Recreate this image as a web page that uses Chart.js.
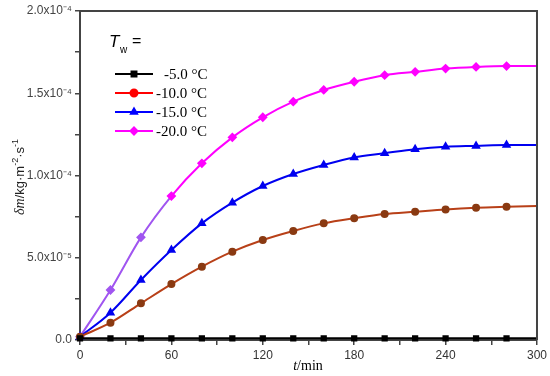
<!DOCTYPE html>
<html>
<head>
<meta charset="utf-8">
<script src="https://cdn.jsdelivr.net/npm/chart.js@4.4.1/dist/chart.umd.min.js"></script>
<style>
  html, body { margin: 0; padding: 0; background: #fff; }
  #wrap { width: 550px; height: 376px; position: relative; }
</style>
</head>
<body>
<div id="wrap"><canvas id="grafico"></canvas></div>
<script>
// datos (t en min, dm en kg/m2/s)
const tiempos = [0, 20, 40, 60, 80, 100, 120, 140, 160, 180, 200, 220, 240, 260, 280, 300];
const serieLabels = ['-5.0 °C', '-10.0 °C', '-15.0 °C', '-20.0 °C'];
const tw5 = [0.1e-5, 0.1e-5, 0.1e-5, 0.1e-5, 0.1e-5, 0.1e-5, 0.1e-5, 0.1e-5, 0.1e-5, 0.1e-5, 0.1e-5, 0.1e-5, 0.1e-5, 0.1e-5, 0.1e-5, 0.1e-5];
const tw10 = [0.2e-5, 1.05e-5, 2.23e-5, 3.40e-5, 4.46e-5, 5.37e-5, 6.08e-5, 6.63e-5, 7.09e-5, 7.40e-5, 7.66e-5, 7.80e-5, 7.94e-5, 8.04e-5, 8.10e-5, 8.15e-5];
const tw15 = [0.2e-5, 1.66e-5, 3.65e-5, 5.47e-5, 7.09e-5, 8.35e-5, 9.36e-5, 10.09e-5, 10.64e-5, 11.10e-5, 11.35e-5, 11.60e-5, 11.75e-5, 11.80e-5, 11.85e-5, 11.85e-5];
const tw20 = [0.2e-5, 3.04e-5, 6.24e-5, 8.75e-5, 10.74e-5, 12.32e-5, 13.54e-5, 14.49e-5, 15.20e-5, 15.70e-5, 16.10e-5, 16.30e-5, 16.50e-5, 16.60e-5, 16.65e-5, 16.65e-5];
const yTicksLabels = { 0: '0.0', 2: '5.0x10⁻⁵', 4: '1.0x10⁻⁴', 6: '1.5x10⁻⁴', 8: '2.0x10⁻⁴' };

// sin marcador en el ultimo punto (t = 300)
function radios(r) {
    return tiempos.map((t, i) => i === tiempos.length - 1 ? 0 : r);
}

function puntos(vals) {
    return tiempos.map((t, i) => ({ x: t, y: vals[i] }));
}

// marco, leyenda y titulos
const extras = {
    id: 'extras',
    afterDraw(chart) {
        const c = chart.ctx;
        const a = chart.chartArea;
        c.save();
        c.strokeStyle = '#444';
        c.lineWidth = 2;
        c.beginPath();
        c.moveTo(a.left, a.top);
        c.lineTo(a.right, a.top);
        c.lineTo(a.right, a.bottom);
        c.stroke();

        // leyenda
        c.fillStyle = '#000';
        c.textBaseline = 'middle';
        c.font = 'italic 17px "Liberation Sans", Arial';
        c.fillText('T', 109, 42);
        c.font = '10px "Liberation Sans", Arial';
        c.fillText('w', 120, 50);
        c.font = '16px "Liberation Sans", Arial';
        c.fillText('=', 132, 42);

        const cols = ['#000000', '#ff0000', '#0000ff', '#ff00ff'];
        const formas = ['rect', 'circle', 'triangle', 'rectRot'];
        c.font = '15px "Liberation Serif", "Times New Roman", serif';
        for (let i = 0; i < 4; i++) {
            const y = 74 + i * 19;
            c.strokeStyle = cols[i];
            c.lineWidth = 2;
            c.beginPath();
            c.moveTo(115, y);
            c.lineTo(153, y);
            c.stroke();
            c.fillStyle = cols[i];
            Chart.helpers.drawPoint(c, { pointStyle: formas[i], radius: 3.5, borderWidth: 1 }, 134, y);
            c.fillStyle = '#000';
            c.fillText(serieLabels[i], i === 0 ? 164 : 156, y + 1);
        }

        // titulo eje x
        c.textBaseline = 'alphabetic';
        c.font = 'italic 14px "Liberation Serif", serif';
        const wt = c.measureText('t').width;
        c.font = '14px "Liberation Serif", serif';
        const wm = c.measureText('/min').width;
        let x0 = 308 - (wt + wm) / 2;
        c.font = 'italic 14px "Liberation Serif", serif';
        c.fillText('t', x0, 370);
        c.font = '14px "Liberation Serif", serif';
        c.fillText('/min', x0 + wt, 370);

        // titulo eje y (rotado)
        c.translate(19, 177);
        c.rotate(-Math.PI / 2);
        const partes = [
            ['italic 14px "Liberation Serif", serif', 'δm', 0],
            ['13px "Liberation Sans", Arial', '/kg·m', 0],
            ['9px "Liberation Sans", Arial', '-2', -6],
            ['13px "Liberation Sans", Arial', '·s', 0],
            ['9px "Liberation Sans", Arial', '-1', -6]
        ];
        let total = 0;
        partes.forEach(p => { c.font = p[0]; total += c.measureText(p[1]).width; });
        let px = -total / 2;
        c.fillStyle = '#222';
        partes.forEach(p => {
            c.font = p[0];
            c.fillText(p[1], px, 5 + p[2]);
            px += c.measureText(p[1]).width;
        });
        c.restore();
    }
};

const ctx = document.getElementById('grafico').getContext('2d');

const myChart = new Chart(ctx, {
    type: 'line',
    data: {
        datasets: [{
            label: serieLabels[0],
            data: puntos(tw5),
            borderColor: '#000000',
            backgroundColor: '#000000',
            pointStyle: 'rect',
            pointRadius: radios(3),
            borderWidth: 2
        }, {
            label: serieLabels[1],
            data: puntos(tw10),
            borderColor: '#b84018',
            backgroundColor: '#8a3a12',
            pointBorderColor: '#8a3a12',
            pointStyle: 'circle',
            pointRadius: radios(3),
            borderWidth: 2
        }, {
            label: serieLabels[2],
            data: puntos(tw15),
            borderColor: '#0000f0',
            backgroundColor: '#0000f0',
            pointStyle: 'triangle',
            pointRadius: radios(3.5),
            borderWidth: 2
        }, {
            label: serieLabels[3],
            data: puntos(tw20),
            borderColor: '#ff00ff',
            backgroundColor: '#ff00ff',
            pointBackgroundColor: tiempos.map(t => t < 60 ? '#a055f0' : '#ff00ff'),
            pointBorderColor: tiempos.map(t => t < 60 ? '#a055f0' : '#ff00ff'),
            segment: {
                borderColor: s => s.p0.parsed.x < 60 ? '#a055f0' : undefined
            },
            pointStyle: 'rectRot',
            pointRadius: radios(3.5),
            borderWidth: 2
        }]
    },
    options: {
        responsive: true,
        maintainAspectRatio: false,
        animation: false,
        clip: false,
        layout: { padding: { top: 11, right: 13, left: 0, bottom: 0 } },
        plugins: { legend: { display: false }, tooltip: { enabled: false } },
        elements: { line: { tension: 0.4, cubicInterpolationMode: 'monotone' } },
        scales: {
            x: {
                type: 'linear',
                min: 0,
                max: 300,
                afterFit: s => { s.height = 36; },
                ticks: {
                    stepSize: 30,
                    autoSkip: false,
                    maxRotation: 0,
                    color: '#333',
                    padding: 3,
                    font: { family: '"Liberation Sans", Arial', size: 12 },
                    callback: v => (Math.round(v) % 60 === 0 ? String(v) : '')
                },
                grid: { drawOnChartArea: false, tickLength: 5, color: '#444', lineWidth: 1.5 },
                border: { color: '#444', width: 2 }
            },
            y: {
                min: 0,
                max: 2e-4,
                afterFit: s => { s.width = 80; },
                ticks: {
                    stepSize: 2.5e-5,
                    autoSkip: false,
                    color: '#444',
                    padding: 3,
                    font: { family: '"Liberation Sans", Arial', size: 12 },
                    callback: v => {
                        const k = Math.round(v / 2.5e-5);
                        return yTicksLabels[k] !== undefined ? yTicksLabels[k] : '';
                    }
                },
                grid: { drawOnChartArea: false, tickLength: 5, color: '#444', lineWidth: 1.5 },
                border: { color: '#444', width: 2 }
            }
        }
    },
    plugins: [extras]
});
</script>
</body>
</html>
